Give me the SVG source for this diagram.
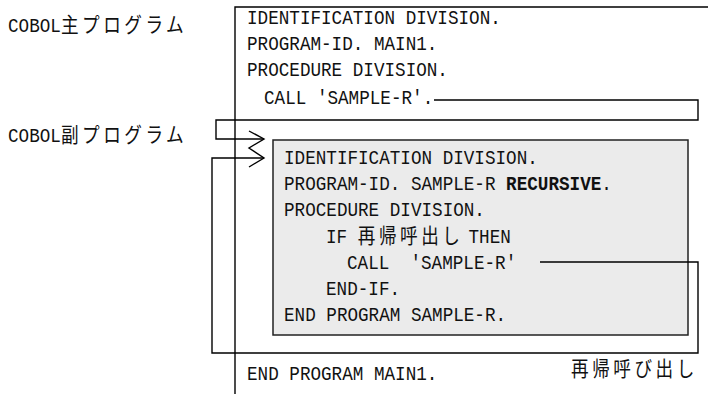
<svg xmlns="http://www.w3.org/2000/svg" width="708" height="394" viewBox="0 0 708 394">
<style>
.t{font-family:"Liberation Mono","Noto Sans CJK JP",monospace;font-size:21px;fill:#111}
.j{font-family:"Noto Sans CJK JP",sans-serif;letter-spacing:4.2px}
.b{font-weight:bold}
.ln{fill:none;stroke:#000;stroke-width:1.4}
</style>
<rect width="708" height="394" fill="#fff"/>
<g id="labels">
<text class="t" transform="matrix(0.84 0 0 1 8 32)">COBOL<tspan class="j">主プログラム</tspan></text>
<text class="t" transform="matrix(0.84 0 0 1 8 142)">COBOL<tspan class="j">副プログラム</tspan></text>
</g>
<g id="main">
<path class="ln" d="M235,394 V7 H708"/>
<text class="t" transform="matrix(0.84 0 0 1 247 24)">IDENTIFICATION DIVISION.</text>
<text class="t" transform="matrix(0.84 0 0 1 247 50)">PROGRAM-ID. MAIN1.</text>
<text class="t" transform="matrix(0.84 0 0 1 247 76)">PROCEDURE DIVISION.</text>
<text class="t" transform="matrix(0.84 0 0 1 264 104)">CALL 'SAMPLE-R'.</text>
<text class="t" transform="matrix(0.84 0 0 1 247 380)">END PROGRAM MAIN1.</text>
</g>
<g id="sub">
<rect x="273" y="140" width="415" height="195" fill="#ebebeb" stroke="#222" stroke-width="1.5"/>
<text class="t" transform="matrix(0.84 0 0 1 284 164)">IDENTIFICATION DIVISION.</text>
<text class="t" transform="matrix(0.84 0 0 1 284 190)">PROGRAM-ID. SAMPLE-R <tspan class="b">RECURSIVE</tspan>.</text>
<text class="t" transform="matrix(0.84 0 0 1 284 216)">PROCEDURE DIVISION.</text>
<text class="t" transform="matrix(0.84 0 0 1 326 243)">IF <tspan class="j">再帰呼出し</tspan><tspan dx="6">THEN</tspan></text>
<text class="t" transform="matrix(0.84 0 0 1 347 269)">CALL <tspan dx="12.6">'SAMPLE-R'</tspan></text>
<text class="t" transform="matrix(0.84 0 0 1 326 295)">END-IF.</text>
<text class="t" transform="matrix(0.84 0 0 1 284 321)">END PROGRAM SAMPLE-R.</text>
</g>
<g id="connectors">
<path class="ln" d="M434,100 H698 V120 H216 V139 H264"/>
<path class="ln" d="M540,262 H698 V353 H212 V158 H264"/>
<polyline class="ln" points="249,131 264,139 249,148 264,158 249,167"/>
<text class="t" transform="matrix(0.84 0 0 1 571 376)"><tspan class="j">再帰呼び出し</tspan></text>
</g>
</svg>
